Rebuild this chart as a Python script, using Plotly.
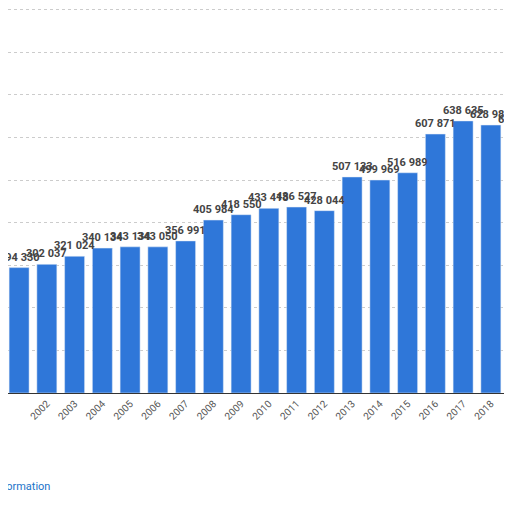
import plotly.graph_objects as go

years = list(range(2001, 2020))
values = [294330, 302037, 321024, 340134, 343134, 343050, 356991, 405984, 418550,
          433418, 436527, 428044, 507133, 499969, 516989, 607871, 638635, 628987, 617921]
labels = [f"{v:,}".replace(",", " ") for v in values]

fig = go.Figure(go.Bar(x=years, y=values, marker_color="#2f77d9", width=0.72))

# value labels as annotations so they keep full size
for yr, v, t in zip(years, values, labels):
    fig.add_annotation(x=yr, y=v, text=f"<b>{t}</b>", showarrow=False, yanchor="bottom",
                       yshift=2, font=dict(family="Roboto", size=11, color="#444"))

fig.add_annotation(text="Additional Information", xref="paper", yref="paper",
                   x=44 / 512, y=(385 - 478) / 385, xanchor="right", yanchor="middle",
                   showarrow=False, font=dict(family="Roboto", size=11, color="#1a73c9"))

fig.update_layout(
    width=512, height=512, showlegend=False,
    paper_bgcolor="white", plot_bgcolor="white",
    margin=dict(l=0, r=0, t=0, b=127, autoexpand=False),
    xaxis=dict(range=[2000.6, 2019.05], tickmode="array", tickvals=years,
               ticktext=[str(y) for y in years], tickangle=-45, automargin=False,
               tickfont=dict(family="Roboto", size=10, color="#555"),
               showline=True, linecolor="#333", linewidth=1, showgrid=False),
    yaxis=dict(range=[0, 903800], dtick=100000, showticklabels=False, automargin=False,
               gridcolor="#ccc", griddash="dot", zeroline=False),
)

fig.write_html("out.html")
